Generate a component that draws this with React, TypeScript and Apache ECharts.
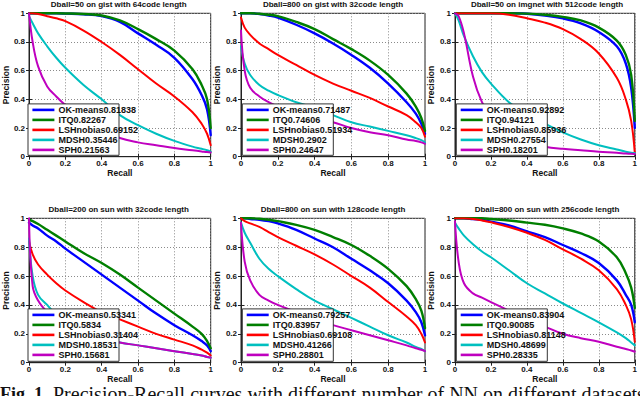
import React, { useEffect, useRef } from "react";
import * as echarts from "echarts";

// Shared recall sample points (x values)
const recall = [0, 0.02, 0.05, 0.1, 0.15, 0.2, 0.3, 0.4, 0.5, 0.6, 0.7, 0.8, 0.9, 0.95, 0.98, 1];

const methods = ["OK-means", "ITQ", "LSHnobias", "MDSH", "SPH"];

const panelTitles = [
  "Dball=50 on gist with 64code length",
  "Dball=800 on gist with 32code length",
  "Dball=50 on imgnet with 512code length",
  "Dball=200 on sun with 32code length",
  "Dball=800 on sun with 128code length",
  "Dball=800 on sun with 256code length",
];

const panelScores = [
  ["0.81838", "0.82267", "0.69152", "0.35446", "0.21563"],
  ["0.71487", "0.74606", "0.51934", "0.2902", "0.24647"],
  ["0.92892", "0.94121", "0.85936", "0.27554", "0.18201"],
  ["0.53341", "0.5834", "0.31404", "0.18531", "0.15681"],
  ["0.79257", "0.83957", "0.69108", "0.41266", "0.28801"],
  ["0.83904", "0.90085", "0.81148", "0.48699", "0.28335"],
];

// Panel 1: gist 64
const gist64OK = [1, 1, 1, 1, 1, 0.998, 0.993, 0.98, 0.94, 0.86, 0.78, 0.69, 0.54, 0.43, 0.33, 0.15];
const gist64ITQ = [1, 1, 1, 1, 1, 0.999, 0.995, 0.985, 0.95, 0.89, 0.82, 0.74, 0.61, 0.5, 0.4, 0.2];
const gist64LSH = [1, 1, 0.995, 0.98, 0.965, 0.945, 0.88, 0.8, 0.71, 0.61, 0.51, 0.42, 0.31, 0.23, 0.16, 0.08];
const gist64MDSH = [0.98, 0.93, 0.86, 0.77, 0.69, 0.62, 0.5, 0.4, 0.29, 0.22, 0.16, 0.11, 0.07, 0.055, 0.045, 0.035];
const gist64SPH = [1, 0.8, 0.63, 0.49, 0.42, 0.36, 0.26, 0.19, 0.13, 0.1, 0.08, 0.06, 0.045, 0.037, 0.032, 0.03];

// Panel 2: gist 32
const gist32OK = [1, 1, 1, 0.995, 0.985, 0.97, 0.92, 0.86, 0.79, 0.71, 0.62, 0.51, 0.38, 0.3, 0.23, 0.16];
const gist32ITQ = [1, 1, 1, 0.997, 0.99, 0.98, 0.94, 0.89, 0.82, 0.75, 0.67, 0.57, 0.44, 0.35, 0.27, 0.18];
const gist32LSH = [0.97, 0.9, 0.85, 0.79, 0.75, 0.71, 0.64, 0.57, 0.51, 0.46, 0.41, 0.35, 0.29, 0.24, 0.2, 0.14];
const gist32MDSH = [0.77, 0.65, 0.57, 0.5, 0.46, 0.43, 0.38, 0.34, 0.29, 0.24, 0.21, 0.18, 0.15, 0.13, 0.115, 0.1];
const gist32SPH = [0.88, 0.6, 0.48, 0.42, 0.38, 0.35, 0.3, 0.27, 0.24, 0.2, 0.17, 0.15, 0.12, 0.11, 0.1, 0.09];

// Panel 3: imgnet 512
const img512OK = [1, 1, 1, 1, 1, 1, 1, 0.997, 0.985, 0.965, 0.93, 0.87, 0.77, 0.65, 0.48, 0.2];
const img512ITQ = [1, 1, 1, 1, 1, 1, 1, 0.998, 0.99, 0.975, 0.95, 0.9, 0.81, 0.71, 0.57, 0.25];
const img512LSH = [1, 1, 1, 1, 1, 1, 0.99, 0.965, 0.935, 0.89, 0.82, 0.72, 0.55, 0.4, 0.25, 0.03];
const img512MDSH = [1, 0.95, 0.84, 0.7, 0.59, 0.51, 0.38, 0.3, 0.23, 0.17, 0.12, 0.08, 0.05, 0.035, 0.028, 0.025];
const img512SPH = [1, 0.98, 0.86, 0.56, 0.38, 0.28, 0.17, 0.1, 0.07, 0.055, 0.045, 0.035, 0.028, 0.022, 0.02, 0.018];

// Panel 4: sun 32
const sun32OK = [0.97, 0.95, 0.93, 0.88, 0.84, 0.79, 0.7, 0.61, 0.52, 0.43, 0.34, 0.26, 0.19, 0.15, 0.12, 0.08];
const sun32ITQ = [0.99, 0.98, 0.96, 0.92, 0.88, 0.84, 0.76, 0.69, 0.61, 0.52, 0.43, 0.34, 0.25, 0.2, 0.15, 0.1];
const sun32LSH = [0.84, 0.75, 0.68, 0.61, 0.55, 0.5, 0.42, 0.35, 0.3, 0.25, 0.2, 0.16, 0.12, 0.09, 0.07, 0.05];
const sun32MDSH = [0.86, 0.6, 0.47, 0.4, 0.33, 0.28, 0.22, 0.17, 0.14, 0.12, 0.1, 0.08, 0.06, 0.05, 0.04, 0.035];
const sun32SPH = [1, 0.53, 0.43, 0.35, 0.3, 0.26, 0.21, 0.17, 0.14, 0.12, 0.1, 0.08, 0.06, 0.05, 0.04, 0.035];

// Panel 5: sun 128
const sun128OK = [1, 1, 0.995, 0.99, 0.98, 0.965, 0.92, 0.86, 0.8, 0.72, 0.64, 0.55, 0.43, 0.35, 0.28, 0.19];
const sun128ITQ = [1, 1, 1, 0.997, 0.99, 0.98, 0.955, 0.92, 0.87, 0.815, 0.74, 0.65, 0.53, 0.44, 0.36, 0.24];
const sun128LSH = [1, 0.98, 0.965, 0.94, 0.905, 0.87, 0.81, 0.75, 0.68, 0.6, 0.52, 0.42, 0.32, 0.26, 0.2, 0.14];
const sun128MDSH = [0.97, 0.9, 0.83, 0.72, 0.65, 0.6, 0.51, 0.43, 0.37, 0.31, 0.25, 0.19, 0.14, 0.11, 0.095, 0.08];
const sun128SPH = [0.97, 0.7, 0.57, 0.47, 0.43, 0.4, 0.35, 0.3, 0.26, 0.225, 0.19, 0.155, 0.12, 0.1, 0.09, 0.08];

// Panel 6: sun 256
const sun256OK = [1, 1, 1, 0.995, 0.99, 0.977, 0.95, 0.91, 0.87, 0.815, 0.76, 0.69, 0.57, 0.47, 0.4, 0.28];
const sun256ITQ = [1, 1, 1, 1, 1, 0.995, 0.985, 0.97, 0.955, 0.93, 0.895, 0.84, 0.73, 0.62, 0.52, 0.38];
const sun256LSH = [1, 1, 1, 0.995, 0.985, 0.972, 0.94, 0.9, 0.85, 0.785, 0.72, 0.64, 0.51, 0.4, 0.3, 0.145];
const sun256MDSH = [0.97, 0.93, 0.88, 0.82, 0.77, 0.73, 0.64, 0.55, 0.48, 0.41, 0.345, 0.28, 0.21, 0.17, 0.14, 0.12];
const sun256SPH = [0.98, 0.7, 0.55, 0.48, 0.45, 0.42, 0.36, 0.3, 0.25, 0.2, 0.17, 0.145, 0.11, 0.095, 0.085, 0.076];

const panelValues = [
  [gist64OK, gist64ITQ, gist64LSH, gist64MDSH, gist64SPH],
  [gist32OK, gist32ITQ, gist32LSH, gist32MDSH, gist32SPH],
  [img512OK, img512ITQ, img512LSH, img512MDSH, img512SPH],
  [sun32OK, sun32ITQ, sun32LSH, sun32MDSH, sun32SPH],
  [sun128OK, sun128ITQ, sun128LSH, sun128MDSH, sun128SPH],
  [sun256OK, sun256ITQ, sun256LSH, sun256MDSH, sun256SPH],
];

const captionBold = "Fig. 1.";
const captionText = "Precision-Recall curves with different number of NN on different datasets";

const axisTicks = [0, 0.2, 0.4, 0.6, 0.8, 1];

// styling / layout
const COLORS = ["#0000ff", "#007f00", "#ff0000", "#00bfbf", "#bf00bf"];
const WIDTHS = [2.4, 2.4, 2, 2, 2];
const COL_LEFT = [26.7, 241, 455];
const ROW_TOP = [13.3, 218.3];
const ROW_H = [143.4, 144.4];
const PLOT_W = 184;
const SANS = "'Liberation Sans', Arial, Helvetica, sans-serif";
const SERIF = "'Liberation Serif', 'Times New Roman', serif";

export default function App() {
  const ref = useRef<HTMLDivElement>(null);

  useEffect(() => {
    if (!ref.current) return;
    const chart = echarts.init(ref.current, undefined, { renderer: "svg" });

    const grids: any[] = [];
    const xAxes: any[] = [];
    const yAxes: any[] = [];
    const xAxesMirror: any[] = [];
    const yAxesMirror: any[] = [];
    const series: any[] = [];
    const legends: any[] = [];
    const graphics: any[] = [];

    panelValues.forEach((vals, p) => {
      const col = p % 3;
      const row = Math.floor(p / 3);
      const left = COL_LEFT[col];
      const top = ROW_TOP[row];
      const h = ROW_H[row];

      grids.push({
        left,
        top,
        width: PLOT_W,
        height: h,
        show: true,
        borderColor: "#222",
        borderWidth: 1,
        backgroundColor: "#fff",
        containLabel: false,
      });

      const common = {
        gridIndex: p,
        type: "value",
        min: axisTicks[0],
        max: axisTicks[axisTicks.length - 1],
        interval: axisTicks[1] - axisTicks[0],
        axisLine: { show: true, lineStyle: { color: "#222", width: 1 } },
        axisTick: { show: true, inside: true, length: 3, lineStyle: { color: "#222" } },
        splitLine: { show: true, lineStyle: { color: "#8a8a8a", width: 1, type: [1, 2] } },
        nameLocation: "middle",
        nameTextStyle: { fontSize: 8.5, fontWeight: "bold", color: "#111", fontFamily: SANS },
      };

      xAxes.push({
        ...common,
        position: "bottom",
        name: "Recall",
        nameGap: 10,
        axisLabel: { fontSize: 8, fontWeight: "bold", color: "#111", margin: 3, fontFamily: SANS },
      });
      yAxes.push({
        ...common,
        position: "left",
        name: "Precision",
        nameGap: 17,
        axisLabel: { fontSize: 8, fontWeight: "bold", color: "#111", margin: 4, fontFamily: SANS },
      });
      const mirror = {
        gridIndex: p,
        type: "value",
        min: axisTicks[0],
        max: axisTicks[axisTicks.length - 1],
        interval: axisTicks[1] - axisTicks[0],
        axisLine: { show: false },
        axisTick: { show: true, inside: true, length: 3, lineStyle: { color: "#222" } },
        axisLabel: { show: false },
        splitLine: { show: false },
      };
      xAxesMirror.push({ ...mirror, position: "top" });
      yAxesMirror.push({ ...mirror, position: "right" });

      const names = methods.map((m, i) => m + panelScores[p][i]);
      vals.forEach((arr, i) => {
        series.push({
          type: "line",
          name: names[i],
          xAxisIndex: p,
          yAxisIndex: p,
          data: recall.map((r, k) => [r, arr[k]]),
          showSymbol: false,
          symbol: "none",
          smooth: 0.4,
          color: COLORS[i],
          lineStyle: { width: WIDTHS[i], color: COLORS[i], cap: "round", join: "round" },
          z: 2,
        });
      });

      const boxLeft = left + 1.3;
      const boxTop = top + 90.6;
      const boxH = h - 90.6 - 1.4;
      graphics.push({
        type: "rect",
        z: 3,
        shape: { x: boxLeft, y: boxTop, width: 91, height: boxH },
        style: { fill: "#fff", stroke: "#333", lineWidth: 1 },
      });
      legends.push({
        data: names,
        orient: "vertical",
        left: boxLeft + 4.4,
        top: boxTop + 1,
        padding: 0,
        itemGap: 0,
        itemWidth: 22,
        itemHeight: 2.6,
        icon: "rect",
        selectedMode: false,
        z: 4,
        textStyle: { fontSize: 9, fontWeight: "bold", color: "#111", fontFamily: SANS, lineHeight: 10, padding: [0, 0, 0, -1] },
      });

      graphics.push({
        type: "text",
        z: 5,
        x: left + PLOT_W / 2,
        y: top - 9,
        style: {
          text: panelTitles[p],
          fill: "#111",
          fontSize: 8,
          fontWeight: "bold",
          fontFamily: SANS,
          align: "center",
          verticalAlign: "middle",
        },
      });
    });

    graphics.push({
      type: "text",
      z: 5,
      x: 0,
      y: 394,
      style: {
        text: captionBold,
        fill: "#111",
        fontSize: 18,
        fontWeight: "bold",
        fontFamily: SERIF,
        align: "left",
        verticalAlign: "middle",
      },
    });
    graphics.push({
      type: "text",
      z: 5,
      x: 53,
      y: 394,
      style: {
        text: captionText,
        fill: "#111",
        fontSize: 20,
        fontFamily: SERIF,
        align: "left",
        verticalAlign: "middle",
      },
    });

    chart.setOption({
      animation: false,
      backgroundColor: "#fff",
      grid: grids,
      xAxis: [...xAxes, ...xAxesMirror],
      yAxis: [...yAxes, ...yAxesMirror],
      series,
      legend: legends,
      graphic: graphics,
    });

    return () => chart.dispose();
  }, []);

  return (
    <div
      ref={ref}
      style={{ position: "absolute", left: 0, top: 0, width: 640, height: 396 }}
    />
  );
}
